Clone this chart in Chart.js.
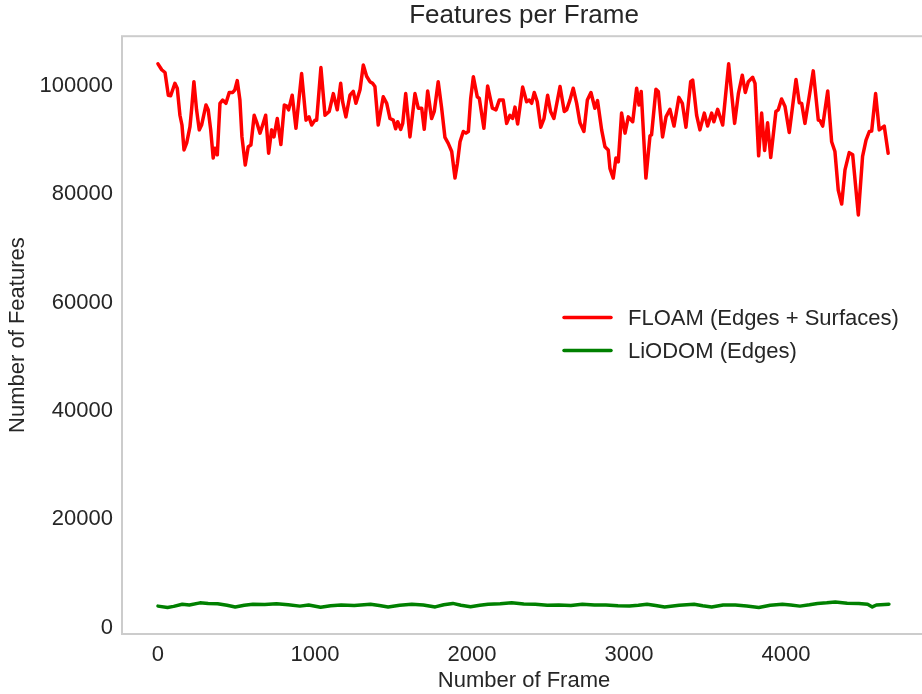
<!DOCTYPE html>
<html>
<head>
<meta charset="utf-8">
<title>Features per Frame</title>
<script src="https://cdn.jsdelivr.net/npm/chart.js@4"></script>
<style>
  html, body { margin: 0; padding: 0; background: #fff; overflow: hidden; }
  #wrap { width: 922px; height: 694px; overflow: hidden; position: relative; }
  canvas { display: block; }
</style>
</head>
<body>
<div id="wrap"><canvas id="chart" width="930" height="694"></canvas></div>
<script>
// Feature counts per processed frame for both odometry pipelines
const floamFrames = [
  0, 24, 45, 66, 81, 108, 123, 140, 153, 166, 183, 204, 215, 229, 246, 263, 278, 306, 320, 336,
  352, 363, 378, 395, 412, 433, 454, 476, 490, 505, 522, 535, 556, 575, 592, 613, 628, 650, 667, 686,
  705, 724, 739, 760, 783, 805, 820, 832, 855, 879, 915, 943, 962, 979, 1000, 1011, 1038, 1064, 1091, 1117,
  1142, 1164, 1176, 1197, 1223, 1244, 1261, 1287, 1308, 1329, 1350, 1367, 1382, 1403, 1435, 1457, 1478, 1499, 1514, 1527,
  1546, 1559, 1578, 1605, 1637, 1658, 1680, 1696, 1718, 1743, 1760, 1785, 1807, 1828, 1849, 1871, 1892, 1907, 1924, 1945,
  1962, 1977, 1992, 2009, 2034, 2047, 2076, 2100, 2130, 2153, 2174, 2199, 2221, 2242, 2259, 2274, 2291, 2323, 2348, 2365,
  2380, 2397, 2416, 2438, 2459, 2482, 2501, 2522, 2561, 2588, 2603, 2624, 2645, 2667, 2688, 2713, 2735, 2758, 2783, 2800,
  2826, 2847, 2868, 2879, 2900, 2917, 2932, 2953, 2975, 2996, 3024, 3049, 3064, 3078, 3108, 3134, 3144, 3172, 3187, 3214,
  3236, 3261, 3287, 3318, 3340, 3363, 3393, 3406, 3431, 3452, 3480, 3501, 3527, 3541, 3565, 3597, 3635, 3673, 3697, 3722,
  3741, 3760, 3788, 3803, 3826, 3845, 3864, 3883, 3903, 3936, 3951, 3972, 3994, 4021, 4064, 4085, 4100, 4121, 4174, 4206,
  4217, 4234, 4266, 4291, 4312, 4333, 4355, 4376, 4403, 4425, 4461, 4488, 4510, 4531, 4546, 4571, 4594, 4626, 4651
];
const floamCounts = [
  104100, 103000, 102500, 98300, 98200, 100500, 99600, 94600, 92800, 88200, 89500, 92500, 95900, 100800, 95600, 91900, 92800, 96500, 95600, 91900,
  86700, 88500, 87300, 96800, 97400, 96800, 98800, 98800, 99300, 101000, 97400, 90600, 85400, 88800, 89100, 94600, 93400, 91300, 92800, 94600,
  87600, 91900, 90600, 94000, 89200, 96500, 96300, 95600, 98300, 92200, 102300, 93700, 94300, 92800, 93700, 93700, 103400, 94600, 95300, 98600,
  95600, 100500, 97100, 94300, 98300, 99000, 96800, 99300, 103900, 101800, 100800, 100500, 99900, 92800, 98000, 96800, 94000, 93700, 92100, 93400,
  92000, 93100, 98600, 90600, 98600, 95900, 95900, 92000, 99100, 94000, 95300, 100800, 95900, 90500, 89400, 87900, 83000, 85700, 89700, 91600,
  91300, 91600, 97700, 101700, 98000, 97700, 92200, 100000, 95900, 95600, 97400, 97400, 93100, 94600, 94000, 96100, 93000, 99800, 97100, 97400,
  96800, 98800, 97100, 92400, 94000, 98300, 95300, 94000, 99900, 95300, 95600, 97400, 99600, 96800, 93200, 91600, 97400, 98800, 95900, 97300,
  91900, 88800, 88200, 84800, 83000, 86700, 86000, 95000, 91300, 94300, 93400, 99600, 96500, 99000, 83000, 90800, 91000, 99400, 99000, 90600,
  94300, 95700, 92600, 97900, 96800, 92400, 100800, 101100, 94600, 91900, 95000, 92600, 95000, 93400, 95700, 92800, 104100, 93100, 98600, 102000,
  98800, 100800, 101600, 100500, 87100, 95000, 88100, 93200, 86800, 95300, 95600, 97600, 96200, 91400, 101200, 96900, 96800, 93100, 102800, 93700,
  93600, 92600, 99100, 89700, 87900, 80800, 78200, 84500, 87700, 87300, 76200, 87000, 90000, 91600, 91700, 98600, 91900, 92600, 87600
];
const liodomFrames = [
  0, 61, 100, 155, 200, 268, 320, 380, 440, 492, 550, 605, 680, 755, 830, 904, 960, 1036, 1100, 1167,
  1250, 1354, 1410, 1466, 1540, 1617, 1690, 1766, 1820, 1878, 1930, 1991, 2050, 2103, 2180, 2253, 2330, 2403, 2480, 2553,
  2630, 2703, 2780, 2853, 2930, 3003, 3060, 3115, 3170, 3227, 3320, 3415, 3470, 3527, 3600, 3677, 3750, 3827, 3900, 3977,
  4030, 4089, 4150, 4201, 4260, 4314, 4390, 4464, 4520, 4550, 4576, 4656
];
const liodomCounts = [
  3950, 3700, 3900, 4300, 4150, 4550, 4450, 4400, 4100, 3800, 4100, 4300, 4250, 4400, 4200, 3950, 4150, 3750, 4000, 4150,
  4050, 4300, 4050, 3800, 4100, 4300, 4150, 3800, 4200, 4450, 4100, 3850, 4100, 4300, 4400, 4550, 4350, 4300, 4100, 4150,
  4050, 4300, 4150, 4150, 4000, 3950, 4100, 4300, 4050, 3800, 4100, 4300, 4000, 3800, 4150, 4150, 3950, 3700, 4100, 4300,
  4150, 3950, 4200, 4450, 4550, 4700, 4500, 4450, 4300, 3800, 4150, 4300
];
const xTickValues = [0, 1000, 2000, 3000, 4000];
const yTickValues = [0, 20000, 40000, 60000, 80000, 100000];
const seriesLabels = ['FLOAM (Edges + Surfaces)', 'LiODOM (Edges)'];
const seriesColors = ['#ff0000', '#008000'];

const FONT = "'Liberation Sans', Arial, sans-serif";
const INK = '#262626';

const toPoints = (xs, ys) => xs.map((x, i) => ({ x: x, y: ys[i] }));

// Light grey frame around the plotting area
const framePlugin = {
  id: 'frame',
  afterDatasetsDraw(chart) {
    const a = chart.chartArea;
    const ctx = chart.ctx;
    ctx.save();
    ctx.strokeStyle = '#cccccc';
    ctx.lineWidth = 2;
    ctx.strokeRect(a.left, a.top, a.right - a.left, a.bottom - a.top);
    ctx.restore();
  }
};

// Legend drawn inside the plotting area, right of centre
const insideLegend = {
  id: 'insideLegend',
  afterDraw(chart) {
    const ctx = chart.ctx;
    const x0 = 564, x1 = 611, tx = 628;
    const rows = [317.5, 350.5];
    ctx.save();
    chart.data.datasets.forEach((ds, i) => {
      const y = rows[i];
      ctx.strokeStyle = ds.borderColor;
      ctx.lineWidth = 3.5;
      ctx.lineCap = 'round';
      ctx.beginPath();
      ctx.moveTo(x0, y);
      ctx.lineTo(x1, y);
      ctx.stroke();
      ctx.fillStyle = INK;
      ctx.font = '22px ' + FONT;
      ctx.textBaseline = 'middle';
      ctx.textAlign = 'left';
      ctx.fillText(ds.label, tx, y + 1);
    });
    ctx.restore();
  }
};

const lineStyle = {
  borderWidth: 3.5,
  pointRadius: 0,
  tension: 0,
  borderJoinStyle: 'round',
  borderCapStyle: 'round',
  fill: false
};

new Chart(document.getElementById('chart'), {
  type: 'line',
  data: {
    datasets: [
      Object.assign({
        label: seriesLabels[0],
        data: toPoints(floamFrames, floamCounts),
        borderColor: seriesColors[0]
      }, lineStyle),
      Object.assign({
        label: seriesLabels[1],
        data: toPoints(liodomFrames, liodomCounts),
        borderColor: seriesColors[1]
      }, lineStyle)
    ]
  },
  options: {
    responsive: false,
    devicePixelRatio: 1,
    animation: false,
    layout: { padding: { top: 0, right: 4, bottom: 0, left: 0 } },
    plugins: {
      legend: { display: false },
      tooltip: { enabled: false },
      title: {
        display: true,
        text: 'Features per Frame',
        fullSize: false,
        color: INK,
        font: { family: FONT, size: 26, weight: 'normal', lineHeight: 1.2 },
        padding: { top: 0, bottom: 5 }
      }
    },
    scales: {
      x: {
        type: 'linear',
        min: -229,
        max: 4892,
        afterBuildTicks: s => { s.ticks = xTickValues.map(v => ({ value: v })); },
        afterFit: s => { s.height = 60; },
        grid: { display: false },
        border: { display: false },
        ticks: {
          color: INK,
          font: { family: FONT, size: 22 },
          padding: 0,
          maxRotation: 0,
          autoSkip: false,
          callback: v => String(v)
        },
        title: {
          display: true,
          text: 'Number of Frame',
          color: INK,
          font: { family: FONT, size: 22, lineHeight: 1.2 },
          padding: { top: 0, bottom: 0 }
        }
      },
      y: {
        type: 'linear',
        min: -1200,
        max: 109200,
        afterBuildTicks: s => { s.ticks = yTickValues.map(v => ({ value: v })); },
        afterFit: s => { s.width = 122; },
        grid: { display: false },
        border: { display: false },
        ticks: {
          color: INK,
          font: { family: FONT, size: 22 },
          padding: 1,
          autoSkip: false,
          callback: v => String(v)
        },
        title: {
          display: true,
          text: 'Number of Features',
          color: INK,
          font: { family: FONT, size: 22, lineHeight: 1.2 },
          padding: { top: 5, bottom: 0 }
        }
      }
    }
  },
  plugins: [framePlugin, insideLegend]
});
</script>
</body>
</html>
